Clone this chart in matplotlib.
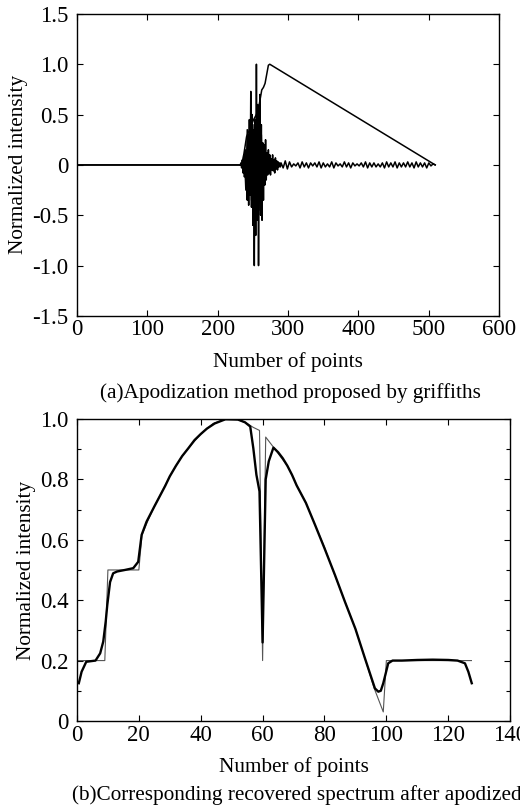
import numpy as np
import matplotlib
matplotlib.use("Agg")
import matplotlib.pyplot as plt
from matplotlib.ticker import MultipleLocator

plt.rcParams['font.family'] = ['Liberation Serif', 'DejaVu Serif']
plt.rcParams['mathtext.fontset'] = 'stix'

# --- (a) interferogram and Griffiths apodization function ---
# flat part before the burst
flat_x = [0, 232]
flat_y = [0, 0]
# burst, point 232 .. 289
burst_y = [0, 0.02, -0.03, 0.05, -0.08, 0.1, -0.12, 0.15, -0.2, 0.12,
           -0.35, 0.3, -0.4, 0.45, -0.3, 0.73, -0.42, 0.5, -0.6, 0.35,
           -1.0, 0.45, -0.7, 1.0, -0.55, 0.6, -1.0, 0.3, 0.7, -0.5,
           0.4, -0.55, 0.22, -0.35, 0.2, -0.2, 0.25, -0.15, 0.12, -0.1,
           0.15, -0.08, 0.1, -0.1, 0.06, -0.05, 0.1, -0.06, 0.05, -0.08,
           0.07, -0.04, 0.04, -0.05, 0.03, -0.02, 0.02, -0.02]
burst_x = list(range(232, 232 + len(burst_y)))
# second trace inside the burst (denser core of the interferogram)
core_x = [238, 240, 242, 244, 246, 248, 250, 252, 254, 256, 258, 260, 262,
          264, 266, 268]
core_y = [0.1, -0.25, 0.35, -0.3, 0.45, -0.35, 0.4, -0.5, 0.45, -0.45, 0.4,
          -0.45, 0.3, -0.3, 0.2, -0.1]
# small ripple tail, every 3rd point from 290
tail_y = [0.02, -0.03, 0.04, -0.04, 0.03, -0.02, 0.01, -0.01, 0.02, -0.03,
          0.03, -0.02, 0.02, -0.03, 0.02, -0.01, 0.02, -0.02, 0.03, -0.03,
          0.02, -0.02, 0.01, -0.02, 0.03, -0.03, 0.02, -0.01, 0.01, -0.02,
          0.03, -0.02, 0.02, -0.03, 0.02, -0.01, 0.01, -0.01, 0.02, -0.02,
          0.03, -0.03, 0.02, -0.02, 0.02, -0.02, 0.01, -0.02, 0.02, -0.03,
          0.03, -0.02, 0.02, -0.02, 0.03, -0.03, 0.02, -0.02, 0.02, -0.02,
          0.03, -0.02, 0.02, -0.03, 0.03, -0.02, 0.02, -0.02, 0.02, -0.03,
          0.02, -0.01, 0.01, 0.0]
tail_x = list(range(290, 290 + 3 * len(tail_y), 3))

apod_x = [0, 234, 237, 241, 246, 251, 255, 259, 262.6, 265, 267.3, 272, 274, 509]
apod_y = [0, 0, 0.1, 0.28, 0.36, 0.45, 0.5, 0.6, 0.745, 0.77, 0.81, 0.99, 1.0, 0]

# --- (b) original and recovered spectrum ---
orig_x = [0, 9, 10, 20, 21, 23, 25, 28, 30, 32, 34, 36, 40, 44, 48, 52, 55,
          57, 59, 60, 61, 64, 66, 68, 70, 71, 74, 77, 80, 83, 87, 90, 93, 96,
          99, 100, 127.5]
orig_y = [0.2, 0.2, 0.5, 0.5, 0.615, 0.665, 0.71, 0.77, 0.81, 0.845, 0.877,
          0.903, 0.95, 0.985, 0.999, 0.998, 0.985, 0.972, 0.962, 0.2, 0.94,
          0.9, 0.872, 0.845, 0.805, 0.78, 0.722, 0.648, 0.575, 0.492, 0.385,
          0.305, 0.21, 0.11, 0.03, 0.2, 0.2]

rec_x = [0.6, 1.5, 3, 6, 7.5, 8.5, 9.3, 9.8, 10.7, 11.7, 13, 15.5, 18.2, 19.8,
         20.9, 22.5, 25, 28.5, 30, 32, 34, 36, 38, 40, 42, 44.5, 48, 52, 54.3,
         56, 57, 58, 59, 60, 61, 62, 63.5, 65, 66.5, 68, 69.5, 71, 74, 77, 80,
         83.4, 86.6, 90, 93, 96.3, 97.4, 98.2, 99, 100.6, 102, 105, 110, 115,
         120, 123, 125.4, 126.5, 127.6]
rec_y = [0.125, 0.163, 0.196, 0.2, 0.224, 0.263, 0.33, 0.384, 0.46, 0.489,
         0.495, 0.5, 0.506, 0.527, 0.616, 0.66, 0.71, 0.778, 0.81, 0.845,
         0.877, 0.903, 0.93, 0.95, 0.968, 0.985, 0.999, 0.998, 0.989, 0.975,
         0.903, 0.815, 0.76, 0.26, 0.8, 0.86, 0.905, 0.89, 0.87, 0.845, 0.815,
         0.78, 0.722, 0.648, 0.572, 0.483, 0.395, 0.305, 0.21, 0.108, 0.097,
         0.1, 0.125, 0.191, 0.2, 0.2, 0.202, 0.203, 0.202, 0.2, 0.191, 0.163,
         0.125]

fs = 15.3   # axis labels and captions
tfs = 16.5  # tick labels

fig = plt.figure(figsize=(5.2, 8.08), dpi=100)
ax1 = fig.add_axes([0.148, 0.609, 0.812, 0.3738])
ax2 = fig.add_axes([0.148, 0.1077, 0.833, 0.3738])

for ax in (ax1, ax2):
    ax.tick_params(direction='in', top=True, right=True, length=4, width=0.8,
                   labelsize=tfs, pad=6)
    ax.tick_params(which='minor', direction='in', top=True, right=True,
                   length=3, width=0.8)
    for s in ax.spines.values():
        s.set_linewidth(1.0)

# top plot
ax1.plot(flat_x, flat_y, color='black', lw=1.1)
ax1.plot(burst_x + tail_x, burst_y + tail_y, color='black', lw=1.1)
ax1.plot(core_x, core_y, color='black', lw=1.1)
ax1.plot(apod_x, apod_y, color='black', lw=1.1)
ax1.set_xlim(0, 600)
ax1.set_ylim(-1.5, 1.5)
ax1.xaxis.set_major_locator(MultipleLocator(100))
ax1.set_yticks([-1.5, -1.0, -0.5, 0, 0.5, 1.0, 1.5])
ax1.set_yticklabels(['-1.5', '-1.0', '-0.5', '0', '0.5', '1.0', '1.5'])
ax1.tick_params(axis='x', pad=2)
ax1.set_ylabel('Normalized intensity', fontsize=fs, labelpad=3)
ax1.set_xlabel('Number of points', fontsize=fs, labelpad=9)

# bottom plot
ax2.plot(orig_x, orig_y, color='#555555', lw=0.8)
ax2.plot(rec_x, rec_y, color='black', lw=1.7)
ax2.set_xlim(0, 140)
ax2.set_ylim(0, 1.0)
ax2.xaxis.set_major_locator(MultipleLocator(20))
ax2.yaxis.set_minor_locator(MultipleLocator(0.1))
ax2.set_yticks([0, 0.2, 0.4, 0.6, 0.8, 1.0])
ax2.set_yticklabels(['0', '0.2', '0.4', '0.6', '0.8', '1.0'])
ax2.tick_params(axis='x', pad=3)
ax2.set_ylabel('Normalized intensity', fontsize=fs, labelpad=3)
ax2.set_xlabel('Number of points', fontsize=fs, labelpad=8)

fig.text(0.558, 0.5136, '(a)Apodization method proposed by griffiths',
         ha='center', va='center', fontsize=fs)
fig.text(0.138, 0.0163, '(b)Corresponding recovered spectrum after apodized',
         ha='left', va='center', fontsize=fs)

fig.savefig('out.png', dpi=100)
